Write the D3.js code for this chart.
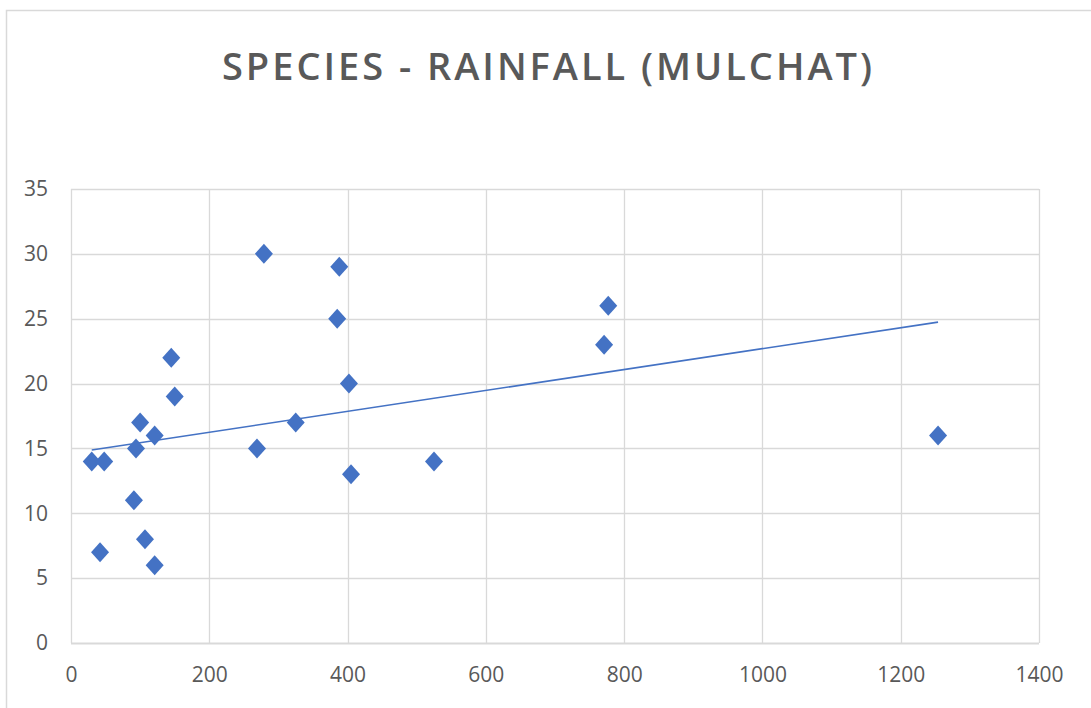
<!DOCTYPE html>
<html>
<head>
<meta charset="utf-8">
<script src="https://cdn.jsdelivr.net/npm/d3@7"></script>
<style>
  body { margin: 0; background: #fff; }
  svg { display: block; }
</style>
</head>
<body>
<div id="chart"></div>
<script>
// rainfall (x) vs species (y)
const rainfall = [30, 48, 42, 91, 94, 100, 107, 121, 121, 145, 150, 269, 279, 325, 385, 388, 402, 405, 525, 771, 777, 1254];
const species  = [14, 14,  7, 11, 15,  17,   8,  16,   6,  22,  19,  15,  30,  17,  25,  29,  20,  13,  14,  23,  26,  16];
const xTicks = [0, 200, 400, 600, 800, 1000, 1200, 1400];
const yTicks = [0, 5, 10, 15, 20, 25, 30, 35];
const title = "SPECIES - RAINFALL (MULCHAT)";

const width = 1091, height = 708;
const margin = {top: 189, right: 52, bottom: 65, left: 71};
const blue = "#4472C4", grid = "#d9d9d9", text = "#595959";

const data = rainfall.map((r, i) => ({x: r, y: species[i]}));

const svg = d3.select("#chart").append("svg")
  .attr("width", width)
  .attr("height", height);

// chart frame
svg.append("rect")
  .attr("x", 6.5).attr("y", 10.5)
  .attr("width", width + 20).attr("height", height + 20)
  .attr("fill", "#fff")
  .attr("stroke", grid)
  .attr("stroke-width", 1.5);

svg.append("text")
  .attr("x", 547).attr("y", 80)
  .attr("text-anchor", "middle")
  .attr("font-family", "Open Sans")
  .attr("font-weight", 600)
  .attr("font-size", 38)
  .attr("fill", text)
  .attr("textLength", 650)
  .attr("lengthAdjust", "spacing")
  .text(title);

const x = d3.scaleLinear().domain([0, 1400]).range([margin.left, width - margin.right]);
const y = d3.scaleLinear().domain([0, 35]).range([height - margin.bottom, margin.top]);

// gridlines
svg.append("g")
  .selectAll("line").data(yTicks).enter()
  .append("line")
    .attr("x1", x(0)).attr("x2", x(1400))
    .attr("y1", d => Math.round(y(d)) + 0.5).attr("y2", d => Math.round(y(d)) + 0.5)
    .attr("stroke", grid).attr("stroke-width", d => d === 0 ? 2 : 1.3);
svg.append("g")
  .selectAll("line").data(xTicks).enter()
  .append("line")
    .attr("x1", d => Math.round(x(d)) + 0.5).attr("x2", d => Math.round(x(d)) + 0.5)
    .attr("y1", y(0)).attr("y2", y(35))
    .attr("stroke", grid).attr("stroke-width", 1.3);

// axes (labels only)
const xAxis = svg.append("g")
  .attr("transform", `translate(0,${y(0)})`)
  .call(d3.axisBottom(x).tickValues(xTicks).tickFormat(d3.format("d")).tickSize(0).tickPadding(24));
const yAxis = svg.append("g")
  .attr("transform", `translate(${x(0)},0)`)
  .call(d3.axisLeft(y).tickValues(yTicks).tickFormat(d3.format("d")).tickSize(0).tickPadding(23));
[xAxis, yAxis].forEach(a => {
  a.select(".domain").remove();
  a.selectAll("text")
    .attr("font-family", "Open Sans")
    .attr("font-size", 21)
    .attr("fill", text);
});

// linear trendline (least squares)
const mx = d3.mean(data, d => d.x), my = d3.mean(data, d => d.y);
const slope = d3.sum(data, d => (d.x - mx) * (d.y - my)) / d3.sum(data, d => (d.x - mx) ** 2);
const icpt = my - slope * mx;
const xExt = d3.extent(data, d => d.x);
svg.append("path")
  .datum(xExt.map(v => ({x: v, y: icpt + slope * v})))
  .attr("d", d3.line().x(d => x(d.x)).y(d => y(d.y)))
  .attr("fill", "none")
  .attr("stroke", blue)
  .attr("stroke-width", 1.6);

// diamond markers
svg.append("g")
  .selectAll("path").data(data).enter()
  .append("path")
    .attr("transform", d => `translate(${x(d.x)},${y(d.y)})`)
    .attr("d", "M0,-10L9,0L0,10L-9,0Z")
    .attr("fill", blue);
</script>
</body>
</html>
